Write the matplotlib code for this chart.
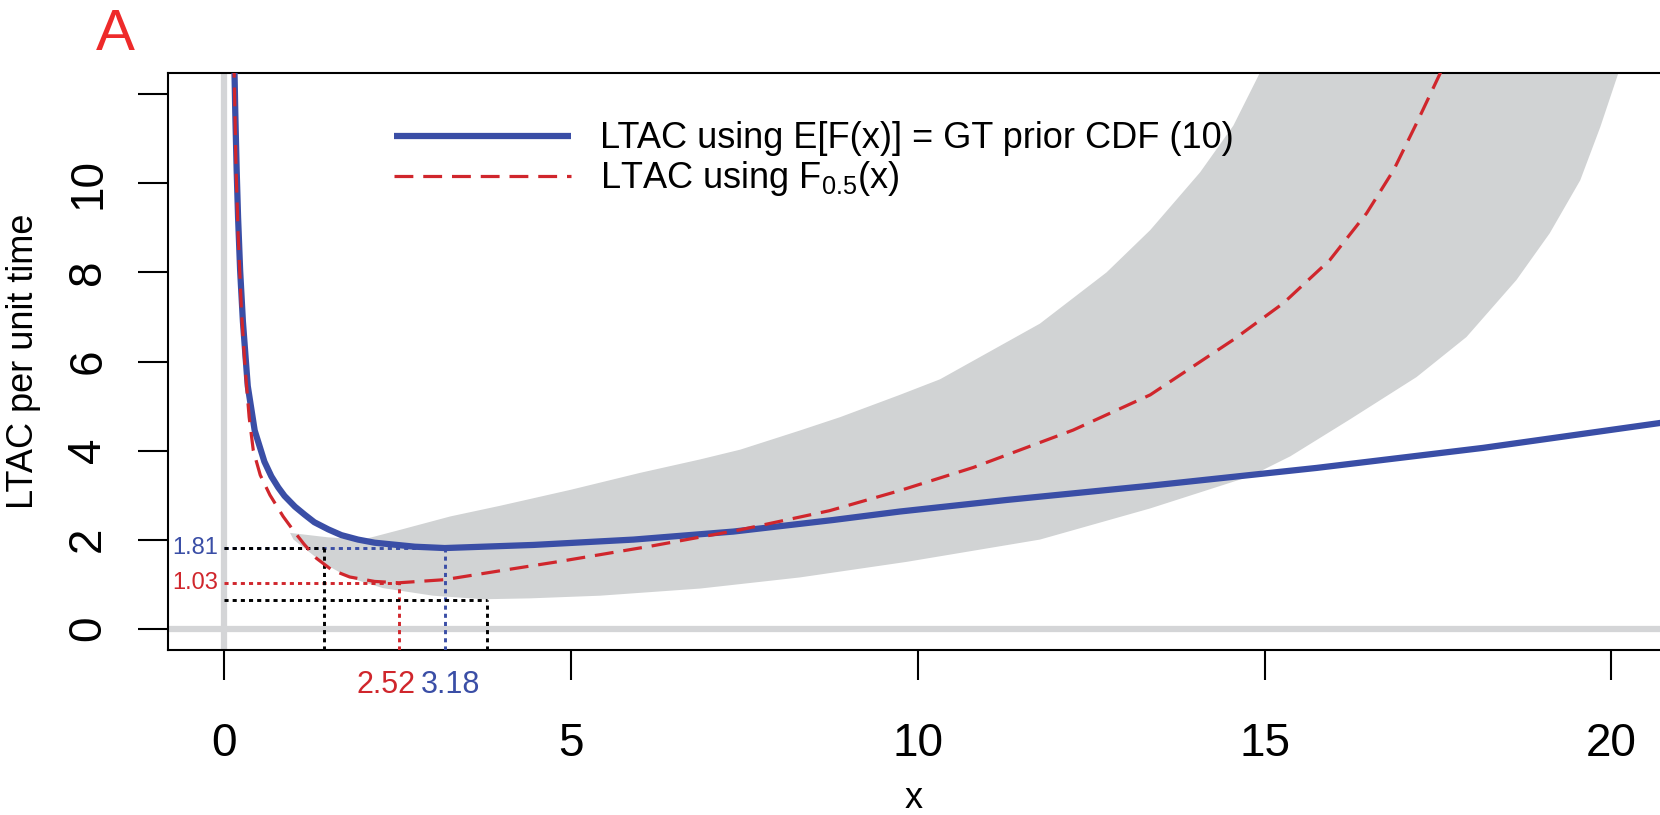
import matplotlib
matplotlib.use("Agg")
import matplotlib.pyplot as plt
import matplotlib.transforms as mtransforms

plt.rcParams['font.family'] = ['Liberation Sans', 'DejaVu Sans']
plt.rcParams['mathtext.fontset'] = 'custom'
plt.rcParams['mathtext.rm'] = 'Liberation Sans'
plt.rcParams['mathtext.it'] = 'Liberation Sans:italic'

# --- data ---
blue_x = [0.145, 0.16, 0.18, 0.20, 0.23, 0.27, 0.34, 0.44, 0.51, 0.58, 0.68, 0.78, 0.87,
          1.02, 1.16, 1.30, 1.50, 1.69, 1.93, 2.17, 2.75, 3.18, 4.46, 5.90, 7.34, 8.78,
          9.74, 11.28, 13.35, 15.75, 18.15, 20.75]
blue_y = [12.8, 11.6, 10.3, 9.25, 8.05, 6.9, 5.45, 4.45, 4.1, 3.75, 3.42, 3.17, 2.98,
          2.74, 2.56, 2.39, 2.23, 2.10, 2.0, 1.93, 1.84, 1.81, 1.88, 2.0, 2.18, 2.44,
          2.63, 2.89, 3.21, 3.61, 4.06, 4.63]

red_x = [0.14, 0.17, 0.20, 0.25, 0.30, 0.36, 0.42, 0.52, 0.66, 0.85, 1.0, 1.15, 1.33, 1.55,
         1.81, 2.17, 2.52, 3.18, 3.98, 4.84, 6.14, 7.44, 8.73, 9.74, 10.80, 12.24, 13.35,
         14.55, 15.27, 15.94, 16.47, 16.86, 17.19, 17.53, 17.70]
red_y = [12.8, 10.4, 8.9, 7.1, 5.9, 4.75, 4.0, 3.45, 3.0, 2.52, 2.2, 1.9, 1.58, 1.32,
         1.16, 1.06, 1.03, 1.10, 1.30, 1.51, 1.85, 2.22, 2.65, 3.10, 3.62, 4.46, 5.25,
         6.49, 7.31, 8.28, 9.33, 10.30, 11.35, 12.47, 13.1]

band_upper_x = [0.95, 1.5, 2.0, 2.54, 3.26, 3.98, 5.0, 6.0, 6.86, 7.44, 8.3, 8.88, 9.74,
                10.32, 11.76, 12.72, 13.35, 14.07, 14.55, 14.93]
band_upper_y = [2.15, 2.05, 2.0, 2.22, 2.52, 2.76, 3.12, 3.50, 3.80, 4.02, 4.45, 4.75, 5.25,
                5.60, 6.85, 8.0, 8.95, 10.25, 11.3, 12.48]
band_lower_x = [0.95, 1.0, 1.43, 1.81, 2.29, 3.01, 3.74, 4.41, 5.42, 6.86, 8.3, 9.84, 11.76,
                13.35, 14.79, 15.37, 16.23, 17.19, 17.91, 18.63, 19.11, 19.55, 19.84, 20.10]
band_lower_y = [2.15, 2.0, 1.47, 1.14, 0.91, 0.74, 0.66, 0.68, 0.74, 0.90, 1.15, 1.5, 2.0,
                2.7, 3.42, 3.87, 4.70, 5.65, 6.55, 7.83, 8.88, 10.07, 11.27, 12.48]

blue_opt_x, blue_opt_y = 3.18, 1.81
red_opt_x, red_opt_y = 2.52, 1.03
black_left_x, black_right_x = 1.44, 3.79
black_low_y = 0.65

x_ticks = [0, 5, 10, 15, 20]
y_ticks = [0, 2, 4, 6, 8, 10, 12]
y_tick_labels = ['0', '2', '4', '6', '8', '10', '']

legend_labels = ['LTAC using E[F(x)] = GT prior CDF (10)', 'LTAC using F$_{0.5}$(x)']

BLUE = '#3a4ea6'
RED = '#d0262c'
BAND = '#d1d3d4'
AXGREY = '#d4d5d7'

fig = plt.figure(figsize=(16.6, 8.15), dpi=100)
ax = fig.add_axes([0.1012, 0.20245, 0.8988, 0.70798])
ax.set_xlim(-0.81, 20.70)
ax.set_ylim(-0.48, 12.48)

# shaded band
poly_x = band_upper_x + band_lower_x[::-1]
poly_y = band_upper_y + band_lower_y[::-1]
ax.fill(poly_x, poly_y, color=BAND, lw=0, zorder=1)

# grey reference lines
ax.axvline(0, color=AXGREY, lw=4.5, zorder=2)
ax.axhline(0, color=AXGREY, lw=4.5, zorder=2)

# dotted guide lines
dot = dict(lw=2.1, linestyle=(0, (1.4, 1.4)), zorder=3)
ymin = ax.get_ylim()[0]
ax.plot([0, blue_opt_x], [blue_opt_y, blue_opt_y], color=BLUE, **dot)
ax.plot([blue_opt_x, blue_opt_x], [ymin, blue_opt_y], color=BLUE, **dot)
ax.plot([0, red_opt_x], [red_opt_y, red_opt_y], color=RED, **dot)
ax.plot([red_opt_x, red_opt_x], [ymin, red_opt_y], color=RED, **dot)
ax.plot([0, black_left_x], [blue_opt_y, blue_opt_y], color='black', **dot)
ax.plot([black_left_x, black_left_x], [ymin, blue_opt_y], color='black', **dot)
ax.plot([0, black_right_x], [black_low_y, black_low_y], color='black', **dot)
ax.plot([black_right_x, black_right_x], [ymin, black_low_y], color='black', **dot)

# curves
l_red, = ax.plot(red_x, red_y, color=RED, lw=2.3, linestyle=(0, (5.9, 3.1)), zorder=5)
l_blue, = ax.plot(blue_x, blue_y, color=BLUE, lw=4.5, solid_capstyle='butt',
                  solid_joinstyle='round', zorder=4)

# value labels
ax.text(-0.09, blue_opt_y, f'{blue_opt_y:.2f}', color=BLUE, fontsize=17, ha='right', va='center')
ax.text(-0.09, red_opt_y, f'{red_opt_y:.2f}', color=RED, fontsize=17, ha='right', va='center')
trans = mtransforms.blended_transform_factory(ax.transData, ax.transAxes)
ax.text(2.34, -0.061, f'{red_opt_x:.2f}', color=RED, fontsize=22, ha='center', va='center',
        transform=trans, clip_on=False)
ax.text(3.27, -0.061, f'{blue_opt_x:.2f}', color=BLUE, fontsize=22, ha='center', va='center',
        transform=trans, clip_on=False)

# axes styling
ax.spines['right'].set_visible(False)
for s in ['left', 'top', 'bottom']:
    ax.spines[s].set_linewidth(1.5)
ax.set_xticks(x_ticks)
ax.set_yticks(y_ticks)
ax.set_yticklabels(y_tick_labels, rotation=90, va='center')
ax.tick_params(axis='both', direction='out', length=21.6, width=1.5, labelsize=33)
ax.tick_params(axis='x', pad=30)
ax.tick_params(axis='y', pad=20)

ax.set_xlabel('x', fontsize=26, labelpad=11)
ax.set_ylabel('LTAC per unit time', fontsize=26, labelpad=18)

ax.legend([l_blue, l_red], legend_labels, loc='upper left', bbox_to_anchor=(0.1515, 0.916),
          frameon=False, fontsize=26, handlelength=4.9, handletextpad=0.79,
          labelspacing=0.08, borderaxespad=0, borderpad=0)

fig.text(115 / 1660, 1 - 50 / 815, 'A', color='#ee2a2a', fontsize=42, ha='center', va='baseline')

fig.savefig('out.png', dpi=100)
